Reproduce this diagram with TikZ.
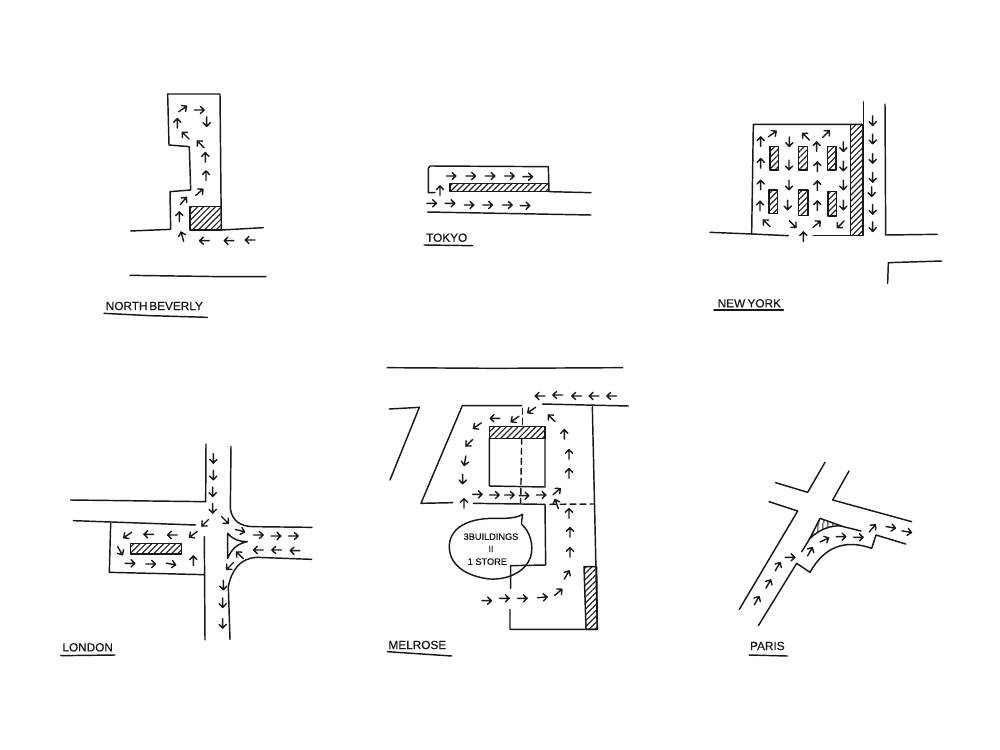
\documentclass[tikz,border=0pt]{standalone}
\usepackage{fontspec}
\setmainfont{Liberation Sans}[FakeBold=0.5]
\usetikzlibrary{patterns.meta}
\tikzset{
  ink/.style={draw=black!90,line width=1.45pt,line cap=round,line join=round},
  arw/.style={draw=black!90,line width=1.4pt,line cap=round,line join=round},
  hatch/.style={ink,pattern={Lines[angle=45,distance=4.2pt,line width=1.2pt]},pattern color=black!85},
  label/.style={inner sep=0pt,font=\fontsize{11.8}{12}\selectfont,text=black!90},
  small/.style={inner sep=0pt,font=\fontsize{9.2}{10}\selectfont,text=black!90},
  zoom/.style={x=0.33333pt,y=-0.33333pt,shift={(#1)}}
}
\newcommand\ar[3]{\draw[arw,shift={(#1,#2)},rotate=#3] (-4.8pt,0pt)--(4.8pt,0pt) (1pt,-3.6pt)--(4.8pt,0pt)--(1pt,3.6pt);}
\begin{document}
\begin{tikzpicture}
\path[use as bounding box,fill=white] (0,0) rectangle (1000pt,-749pt);

% NORTH BEVERLY
\begin{scope}[zoom={100pt,-80pt}]
\path[hatch] (270,380) rectangle (364,450);
\draw[ink] (92,453)--(212,448)--(210,335)--(272,330)--(268,200)--(207,195)--(203,42)--(360,42)--(364,450)--(490,443);
\draw[ink] (90,586)--(365,590)--(498,590);
\foreach \p/\q/\a in {248/87/35,298/90/0,320/125/270,232/130/90,257/167/135,302/193/135,316/232/90,318/287/90,298/337/40,250/363/50,238/410/90,247/470/105,313/482/180,387/482/180,450/480/180} {\ar{\p}{\q}{\a}}
\node[label,anchor=center] (nb) at (163,678) {NORTH\hspace{-1.5pt} BEVERLY};
\draw[ink] (12,700)--(150,707)--(322,712);
\end{scope}

% TOKYO
\begin{scope}[zoom={400pt,-150pt}]
\path[hatch] (150,100) rectangle (445,125);
\draw[ink] (105,128)--(85,128)--(85,55)--(90,48)--(445,50)--(447,125)--(573,128);
\draw[ink] (82,186)--(300,190)--(573,195);
\foreach \p/\q/\a in {153/78/0,212/78/0,270/78/0,328/78/0,383/80/0,120/122/90,95/160/0,150/160/0,207/165/0,263/165/0,322/165/0,375/167/0} {\ar{\p}{\q}{\a}}
\node[label] (tk) at (140,263) {TOKYO};
\draw[ink] (72,285)--(218,287);
\end{scope}

% NEW YORK
\begin{scope}[zoom={700pt,-90pt}]
\path[hatch] (452,103) rectangle (488,437);
\foreach \a/\b/\c/\d in {210/170/235/240,295/170/322/240,382/170/408/240,207/300/232/370,295/300/324/376,384/304/410/378} {\path[hatch] (\a,\b) rectangle (\c,\d);}
\draw[ink] (30,427)--(155,432)--(265,437);
\draw[ink] (340,437)--(490,437)--(490,35);
\draw[ink] (155,432)--(160,103)--(485,103);
\draw[ink] (555,42)--(557,435)--(712,433);
\draw[ink] (563,580)--(565,518)--(725,513);
\foreach \p/\q/\a in {217/132/35,268/155/270,318/140/135,378/132/45,430/170/270,182/155/90,182/220/90,182/285/90,180/348/90,267/225/270,267/285/270,263/345/270,350/170/90,352/230/90,352/287/90,352/347/90,430/228/270,430/285/270,430/345/270,200/400/135,278/402/-45,350/403/40,422/403/225,310/440/90,518/92/270,518/147/270,518/205/270,518/262/270,515/305/270,518/358/270,518/410/270} {\ar{\p}{\q}{\a}}
\node[label] (ny) at (148,640) {NEW\hspace{-1pt} YORK};
\draw[ink] (42,660)--(250,660);
\end{scope}

% LONDON
\begin{scope}[zoom={50pt,-430pt}]
\path[hatch] (242,340) rectangle (395,372);
\draw[ink] (468,42)--(467,215)--(62,210);
\draw[ink] (543,50)--(541,235) .. controls (545,270) and (570,290) .. (610,290)--(786,292);
\draw[ink] (70,272)--(437,285);
\draw[ink] (182,280)--(178,427)--(463,434);
\draw[ink] (463,320)--(465,630);
\draw[ink] (540,628)--(535,470) .. controls (545,420) and (570,385) .. (620,382)--(785,388);
\draw[ink] (533,385)--(533,310) .. controls (550,330) and (570,335) .. (592,335) .. controls (565,340) and (545,355) .. (533,385);
\foreach \p/\q/\a in {490/85/270,490/135/270,488/185/270,488/235/270,466/278/225,525/270/-45,570/302/-15,625/315/0,678/318/0,730/318/0,735/362/180,680/360/180,625/360/180,570/376/135,540/408/225,520/465/270,518/518/270,518/580/270,430/313/215,367/315/180,296/313/180,233/315/215,210/362/-60,240/400/0,302/402/0,363/402/-10,430/392/90} {\ar{\p}{\q}{\a}}
\node[label] (ld) at (113,652) {LONDON};
\draw[ink] (32,677)--(195,675);
\end{scope}

% MELROSE
\begin{scope}[zoom={380pt,-355pt}]
\draw[ink] (22,38)--(350,40)--(728,38);
\draw[ink] (28,162)--(118,157)--(30,375);
\draw[ink] (425,152)--(247,152)--(123,445)--(218,443);
\draw[ink] (280,445)--(495,448)--(497,630)--(392,632)--(392,700);
\draw[ink] (390,763)--(390,823)--(652,823)--(637,155);
\draw[ink] (487,147)--(745,153);
\path[hatch] (328,215) rectangle (495,250);
\path[hatch] (612,635)--(650,635)--(652,823)--(618,823)--cycle;
\draw[ink] (328,250)--(328,393)--(495,396)--(495,250);
\draw[ink,dash pattern=on 6pt off 4pt] (428,160)--(428,215);
\draw[ink,dash pattern=on 6pt off 4pt] (425,250)--(422,445);
\draw[ink,dash pattern=on 6pt off 4pt] (510,448)--(640,447);
\draw[ink] (428,478) .. controls (426,490) and (424,500) .. (425,508) .. controls (450,530) and (462,570) .. (452,605) .. controls (440,645) and (390,675) .. (330,672) .. controls (260,665) and (205,630) .. (208,570) .. controls (212,515) and (270,490) .. (340,490) .. controls (370,490) and (405,492) .. (428,478);
\foreach \p/\q/\a in {480/123/180,533/120/180,590/123/180,642/123/180,695/123/180,455/165/215,515/190/135,405/192/215,345/190/180,292/212/215,268/263/225,255/317/260,248/372/270,553/238/90,567/298/90,567/355/90,292/418/0,343/420/0,388/420/0,432/422/0,483/420/0,530/410/40,252/445/90,530/447/110,567/475/90,570/532/90,570/592/90,560/660/60,535/712/40,487/727/5,427/730/0,373/730/0,320/737/0} {\ar{\p}{\q}{\a}}
\node[small] (b1) at (333,545) {3BUILDINGS};
\node[small] (b2) at (333,582) {II};
\node[small] (b3) at (322,620) {1 STORE};
\node[label] (ml) at (112,870) {MELROSE};
\draw[ink] (22,890)--(215,903);
\end{scope}

% PARIS
\begin{scope}[zoom={730pt,-450pt}]
\path[pattern={Lines[angle=85,distance=4pt,line width=1pt]},pattern color=black!85] (270,205)--(335,228) .. controls (300,225) and (265,240) .. (237,268) -- cycle;
\draw[ink] (285,37)--(233,127)--(137,98);
\draw[ink] (357,63)--(308,150)--(545,215);
\draw[ink] (117,155)--(203,183)--(28,478);
\draw[ink] (85,527)--(200,340)--(240,367) .. controls (280,295) and (340,265) .. (425,295)--(438,255)--(527,282);
\draw[ink] (215,305)--(240,265)--(270,205)--(340,230)--(393,243);
\draw[ink] (237,268) .. controls (265,240) and (300,225) .. (335,228);
\foreach \p/\q/\a in {80/452/60,115/402/60,143/350/60,180/322/0,240/305/60,283/270/25,333/260/0,385/262/0,427/235/50,482/232/-10,530/245/-10} {\ar{\p}{\q}{\a}}
\node[label] (pr) at (112,588) {PARIS};
\draw[ink] (57,615)--(172,618);
\end{scope}
\end{tikzpicture}
\end{document}
